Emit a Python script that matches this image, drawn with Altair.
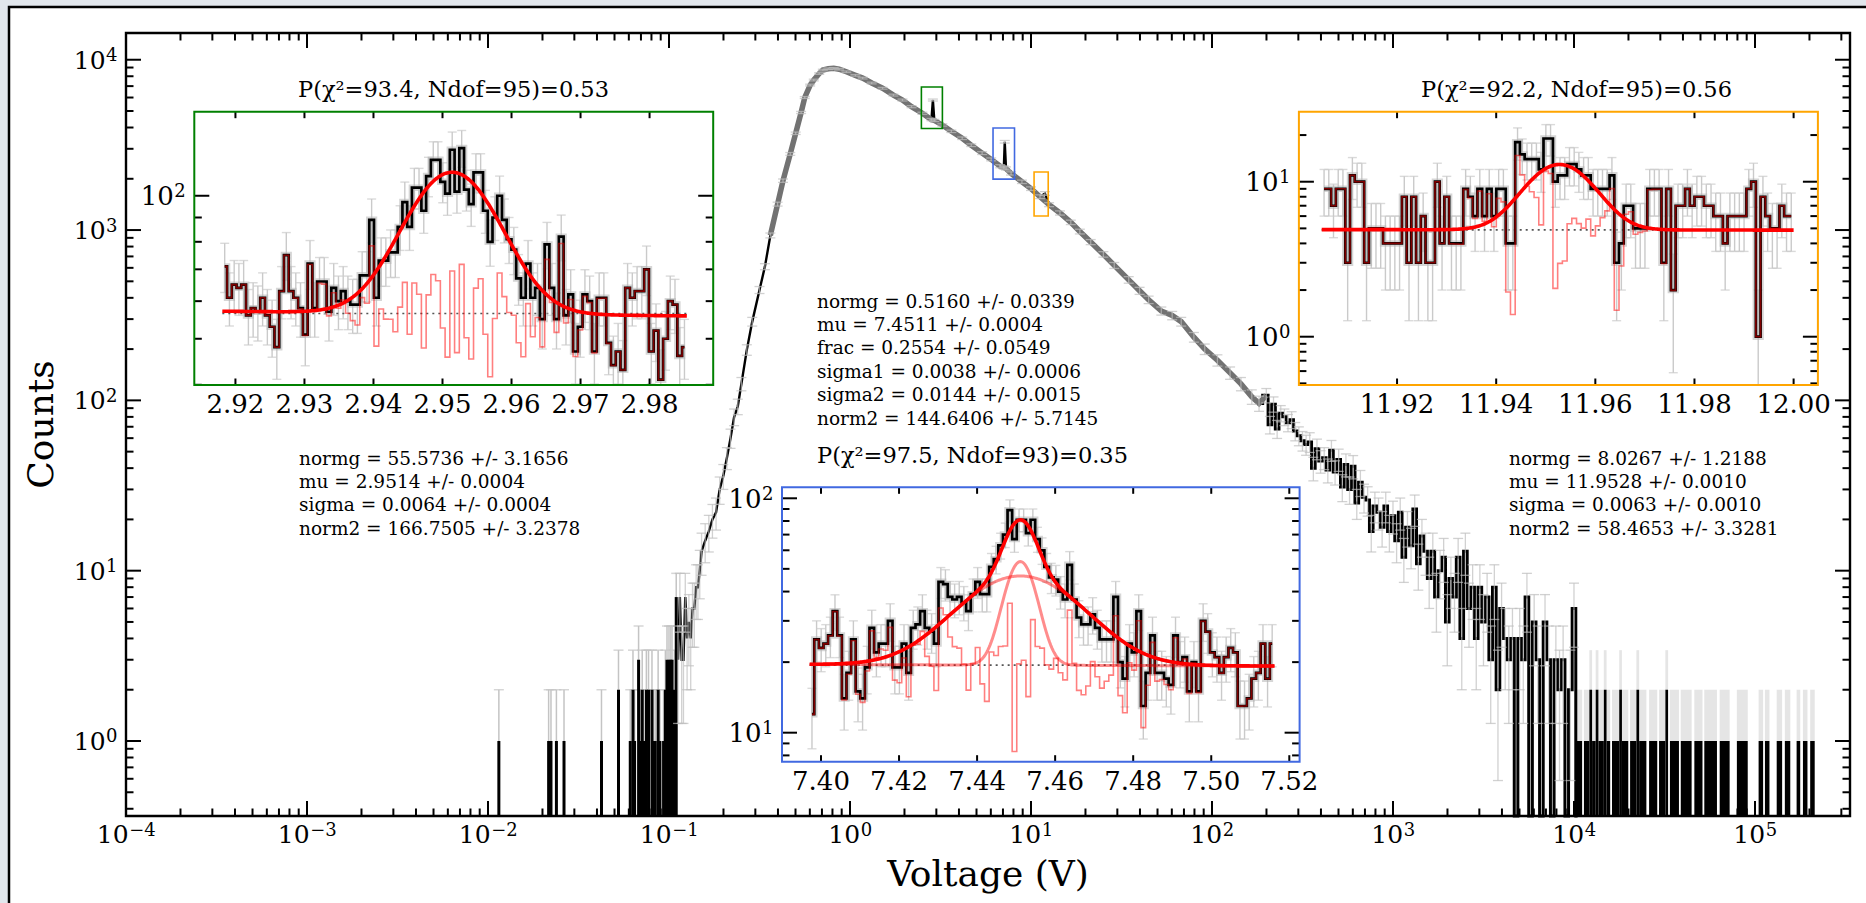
import altair as alt
import numpy as np
import pandas as pd

FONT = "DejaVu Serif"

# ---------------- layout (pixels) ----------------
W, H = 1724, 783
PAD = {"left": 126, "top": 33, "right": 16, "bottom": 87}
X_EXP = (-4.0, 5.525)        # main x axis, decades of voltage
Y_EXP = (-0.4404, 4.157)     # main y axis, decades of counts
Y_FLOOR = 10 ** Y_EXP[0]

# ---------------- main spectrum ----------------
main_logv = [-0.95, -0.94, -0.93, -0.92, -0.91, -0.90, -0.89, -0.88, -0.87, -0.86,
             -0.85, -0.84, -0.83, -0.82, -0.80, -0.78, -0.76, -0.74, -0.72, -0.70,
             -0.68, -0.66, -0.64, -0.62, -0.60, -0.57, -0.54, -0.50, -0.47, -0.44,
             -0.40, -0.37, -0.33, -0.30, -0.27, -0.25, -0.22, -0.20, -0.17, -0.15,
             -0.12, -0.09, -0.06, -0.02, 0.03, 0.07, 0.12, 0.18, 0.24, 0.29,
             0.34, 0.40, 0.45, 0.458, 0.466, 0.51, 0.56, 0.62, 0.67, 0.73,
             0.78, 0.83, 0.85, 0.855, 0.862, 0.89, 0.95, 1.00, 1.05, 1.077,
             1.10, 1.16, 1.22, 1.27, 1.33, 1.40, 1.46, 1.54, 1.60, 1.65,
             1.72, 1.78, 1.83, 1.90, 1.96, 2.03, 2.10, 2.16, 2.22, 2.26]
main_counts = [3, 7, 3, 3, 7, 4, 5, 4, 6, 6,
               8, 8, 10, 13, 15, 17, 20, 22, 30, 36,
               46, 60, 80, 92, 125, 198, 290, 445, 610, 930,
               1420, 1950, 2800, 3700, 4900, 6000, 7100, 7600, 8300, 8700,
               8850, 8900, 8800, 8500, 8100, 7800, 7300, 6800, 6200, 5800,
               5300, 4850, 4450, 5800, 4400, 4140, 3800, 3460, 3150, 2830,
               2600, 2370, 2330, 3300, 2300, 2150, 1920, 1750, 1570, 1640,
               1410, 1260, 1110, 980, 850, 720, 620, 510, 440, 390,
               335, 315, 290, 235, 200, 172, 145, 125, 105, 96]
peak_logv = [0.458, 0.855, 1.077]

tail_logv_start, tail_logv_step = 2.30, 0.02
tail_counts = [107, 72, 95, 68, 84, 80, 74, 77, 66, 62,
               58, 55, 57, 40, 52, 44, 46, 39, 51, 38,
               45, 31, 42, 30, 41, 25, 33, 27, 26, 17,
               24, 22, 18, 24, 17, 21, 15, 22, 12, 18,
               14, 23, 11, 16, 13, 9, 13, 7, 10, 12,
               5, 9, 7, 12, 4, 13, 6, 8, 4, 8,
               5, 7, 3, 8, 2, 6, 4, 3, 4, 0,
               4, 3, 7, 0, 5, 3, 0, 5, 3, 0,
               3, 2, 3, 0, 2, 6, 0]

low_spike_logv = [-1.940, -1.665, -1.652, -1.622, -1.580, -1.373, -1.279, -1.214, -1.199, -1.190,
                  -1.168, -1.158, -1.148, -1.140, -1.125, -1.113, -1.094, -1.085, -1.076, -1.060,
                  -1.050, -1.030, -1.020, -1.011, -1.000, -0.990, -0.983, -0.970, -0.960]
low_spike_counts = [1, 1, 1, 1, 1, 1, 2, 1, 2, 1,
                    3, 1, 2, 1, 2, 2, 2, 1, 1, 2,
                    1, 1, 2, 3, 3, 3, 3, 2, 7]

block_lv0 = [4.015, 4.055, 4.085, 4.100, 4.120, 4.135, 4.165, 4.180, 4.210, 4.250,
             4.265, 4.310, 4.345, 4.360, 4.415, 4.470, 4.505, 4.530, 4.590, 4.665,
             4.720, 4.805, 4.900, 5.020, 5.055, 5.120, 5.165, 5.230, 5.265, 5.305]
block_lv1 = [4.045, 4.085, 4.100, 4.120, 4.135, 4.165, 4.180, 4.200, 4.250, 4.265,
             4.300, 4.345, 4.360, 4.400, 4.460, 4.505, 4.520, 4.580, 4.650, 4.710,
             4.790, 4.860, 4.960, 5.045, 5.080, 5.150, 5.195, 5.250, 5.290, 5.330]
block_counts = [1, 1, 2, 1, 2, 1, 2, 1, 1, 2,
                1, 1, 2, 1, 1, 1, 2, 1, 1, 1,
                1, 1, 1, 1, 1, 1, 1, 1, 1, 1]

box_v0 = [2.48, 6.17, 10.4]
box_v1 = [3.24, 8.11, 12.45]
box_c0 = [3950, 1990, 1210]
box_c1 = [6920, 3970, 2190]
box_colors = ["#008000", "#4169e1", "#ffa500"]

main_x_exps = [-4, -3, -2, -1, 0, 1, 2, 3, 4, 5]
main_y_exps = [0, 1, 2, 3, 4]
x_title = "Voltage (V)"
y_title = "Counts"

# ---------------- inset spectra ----------------
green_counts = [71, 61, 65, 64, 65, 56, 58, 57, 61, 56,
                53, 48, 63, 75, 63, 61, 58, 51, 72, 58,
                66, 66, 57, 64, 60, 63, 60, 59, 59, 68,
                68, 89, 61, 73, 73, 76, 76, 86, 97, 86,
                104, 104, 93, 110, 119, 119, 107, 101, 125, 102,
                126, 103, 96, 112, 112, 93, 80, 90, 100, 89,
                81, 77, 67, 61, 72, 61, 64, 55, 79, 64,
                55, 82, 56, 62, 47, 53, 62, 60, 47, 61,
                61, 49, 44, 47, 43, 64, 61, 63, 63, 70,
                47, 52, 41, 50, 60, 59, 46, 48]
green_edges = (2.9181, 2.9854)
green_fit = {"normg": 55.5736, "mu": 2.9514, "sigma": 0.0064, "norm2": 166.7505}

orange_counts = [9, 9, 7, 9, 9, 3, 11, 10, 10, 3, 5, 5, 5, 4, 4, 4,
                 4, 8, 3, 8, 3, 6, 3, 3, 10, 4, 8, 4, 4, 4, 9, 8, 6, 9, 6, 9, 6,
                 9, 9, 4, 4, 18, 15, 14, 14, 14, 12, 19, 19, 10, 11, 11, 13, 13, 12, 11, 11, 9,
                 9, 9, 9, 11, 3, 4, 7, 7, 5, 5, 5, 9, 9, 9, 3, 9, 2, 7, 7, 9, 7,
                 8, 8, 7, 7, 6, 6, 4, 6, 6, 6, 6, 9, 10, 1, 8, 6, 5, 5, 7, 6, 6]
orange_edges = (11.9048, 12.0000)
orange_fit = {"normg": 8.0267, "mu": 11.9528, "sigma": 0.0063, "norm2": 58.4653}

blue_counts = [12, 25, 23, 24, 26, 33, 26, 14, 18, 25,
               15, 14, 19, 28, 22, 24, 24, 30, 19, 19,
               24, 18, 28, 29, 33, 28, 27, 24, 44, 43,
               38, 37, 38, 36, 33, 39, 44, 39, 39, 51,
               55, 63, 70, 89, 67, 81, 81, 71, 81, 67,
               60, 51, 46, 45, 40, 37, 52, 37, 31, 29,
               29, 32, 28, 25, 25, 25, 38, 20, 17, 24,
               22, 33, 13, 18, 26, 18, 18, 17, 16, 26,
               20, 21, 15, 20, 15, 30, 27, 22, 21, 18,
               21, 23, 22, 13, 13, 14, 17, 18, 24, 17, 24]
blue_edges = (7.3971, 7.5162)
blue_fit = {"mu": 7.4511, "sigma1": 0.0038, "sigma2": 0.0144, "norm2": 144.6406,
            "amp1": 34.3, "amp2": 27.2}   # component peak heights

green_text = ["normg = 55.5736 +/- 3.1656", "mu = 2.9514 +/- 0.0004",
              "sigma = 0.0064 +/- 0.0004", "norm2 = 166.7505 +/- 3.2378"]
blue_text = ["normg = 0.5160 +/- 0.0339", "mu = 7.4511 +/- 0.0004", "frac = 0.2554 +/- 0.0549",
             "sigma1 = 0.0038 +/- 0.0006", "sigma2 = 0.0144 +/- 0.0015", "norm2 = 144.6406 +/- 5.7145"]
orange_text = ["normg = 8.0267 +/- 1.2188", "mu = 11.9528 +/- 0.0010",
               "sigma = 0.0063 +/- 0.0010", "norm2 = 58.4653 +/- 3.3281"]
green_title = "P(\u03c7\u00b2=93.4, Ndof=95)=0.53"
orange_title = "P(\u03c7\u00b2=92.2, Ndof=95)=0.56"
blue_title = "P(\u03c7\u00b2=97.5, Ndof=93)=0.35"


def exp_str(k):
    return ("\u2212" + str(-k)) if k < 0 else str(k)


def minor_ticks(lo, hi):
    out = []
    for k in range(int(np.floor(np.log10(lo))) - 1, int(np.ceil(np.log10(hi))) + 1):
        for m in range(2, 10):
            v = round(m * 10.0 ** k, 10)
            if lo < v < hi:
                out.append(v)
    return out


one = pd.DataFrame({"k": [0]})

# label typography (pixels)
BASE_FS, EXP_FS = 25, 18
W10 = 1.272 * BASE_FS                 # width of "10"
def exp_w(k, fs=EXP_FS):
    return (0.838 + 0.636 * len(str(abs(k)))) * fs if k < 0 else 0.636 * len(str(k)) * fs

# ================= main panel =================
xs_main = alt.Scale(type="log", domain=[10 ** X_EXP[0], 10 ** X_EXP[1]], nice=False)
ys_main = alt.Scale(type="log", domain=[10 ** Y_EXP[0], 10 ** Y_EXP[1]], nice=False, clamp=True)
XM = lambda f: alt.X(f, scale=xs_main, axis=None)
YM = lambda f: alt.Y(f, scale=ys_main, axis=None)

tail_logv = list(np.round(tail_logv_start + tail_logv_step * np.arange(len(tail_counts)), 3))
lv_all = np.array(main_logv + tail_logv, dtype=float)
c_all = np.array(main_counts + tail_counts, dtype=float)
dm = pd.DataFrame({"lv": lv_all, "v": 10 ** lv_all, "c": np.maximum(c_all, 1e-3),
                   "lo": np.maximum(c_all - np.sqrt(c_all), 1e-3),
                   "hi": np.maximum(c_all + np.sqrt(c_all), 1e-3)})
smooth = dm[dm.lv <= 2.30]
tail = dm[dm.lv >= 2.26]
overlay = dm[(dm.lv >= -0.46) & (dm.lv <= 2.3) & (~dm.lv.isin(peak_logv))]

ls = np.array(low_spike_logv)
lc = np.array(low_spike_counts, dtype=float)
dsp = pd.DataFrame({"v": 10 ** ls, "c": lc, "hi": lc + np.sqrt(lc), "base": Y_FLOOR})

bc = np.array(block_counts, dtype=float)
dbl = pd.DataFrame({"v0": 10 ** np.array(block_lv0), "v1": 10 ** np.array(block_lv1),
                    "c": bc, "hi": bc + np.sqrt(bc), "base": Y_FLOOR})
dbox = pd.DataFrame({"v0": box_v0, "v1": box_v1, "c0": box_c0, "c1": box_c1, "col": box_colors})

main_layers = [
    alt.Chart(one).mark_rect(fill="white", stroke="black", strokeWidth=2.5).encode(
        x=alt.value(-117), x2=alt.value(W + 120), y=alt.value(-26), y2=alt.value(H + 150)),
    alt.Chart(dbl).mark_rect(color="#cccccc", opacity=0.5).encode(
        x=XM("v0:Q"), x2="v1:Q", y=YM("c:Q"), y2="hi:Q"),
    alt.Chart(dbl).mark_rect(color="black").encode(
        x=XM("v0:Q"), x2="v1:Q", y=YM("base:Q"), y2="c:Q"),
    alt.Chart(dsp).mark_rule(color="#c4c4c4", strokeWidth=1.5).encode(
        x=XM("v:Q"), y=YM("c:Q"), y2="hi:Q"),
    alt.Chart(dsp).mark_tick(orient="horizontal", size=10, thickness=1.5, color="#c4c4c4").encode(
        x=XM("v:Q"), y=YM("hi:Q")),
    alt.Chart(dsp).mark_rule(color="black", strokeWidth=3).encode(
        x=XM("v:Q"), y=YM("base:Q"), y2="c:Q"),
    alt.Chart(smooth).mark_line(color="black", strokeWidth=2.4).encode(
        x=XM("v:Q"), y=YM("c:Q")),
    alt.Chart(tail).mark_line(color="black", strokeWidth=3.0, interpolate="step").encode(
        x=XM("v:Q"), y=YM("c:Q")),
    alt.Chart(overlay).mark_line(color="#727272", strokeWidth=5.5).encode(
        x=XM("v:Q"), y=YM("c:Q")),
    alt.Chart(dm).mark_rule(color="#bdbdbd", strokeWidth=1.3, opacity=0.7).encode(
        x=XM("v:Q"), y=YM("lo:Q"), y2="hi:Q"),
    alt.Chart(dm).mark_tick(orient="horizontal", size=10, thickness=1.3, color="#bdbdbd", opacity=0.7).encode(
        x=XM("v:Q"), y=YM("hi:Q")),
    alt.Chart(dm).mark_tick(orient="horizontal", size=10, thickness=1.3, color="#bdbdbd", opacity=0.7).encode(
        x=XM("v:Q"), y=YM("lo:Q")),
    alt.Chart(dbox).mark_rect(fillOpacity=0, strokeWidth=1.6).encode(
        x=XM("v0:Q"), x2="v1:Q", y=YM("c0:Q"), y2="c1:Q", stroke=alt.Stroke("col:N", scale=None)),
]

xmaj = pd.DataFrame({"t": [10.0 ** k for k in main_x_exps], "k": main_x_exps,
                     "base": ["10"] * len(main_x_exps), "ex": [exp_str(k) for k in main_x_exps]})
xmin = pd.DataFrame({"t": minor_ticks(10 ** X_EXP[0], 10 ** X_EXP[1])})
ymaj = pd.DataFrame({"t": [10.0 ** k for k in main_y_exps], "k": main_y_exps,
                     "base": ["10"] * len(main_y_exps), "ex": [exp_str(k) for k in main_y_exps]})
ymin = pd.DataFrame({"t": minor_ticks(10 ** Y_EXP[0], 10 ** Y_EXP[1])})
for dfx, L in ((xmaj, 15), (xmin, 7.5)):
    main_layers.append(alt.Chart(dfx).mark_rule(color="black", strokeWidth=2).encode(
        x=XM("t:Q"), y=alt.value(H), y2=alt.value(H - L)))
    main_layers.append(alt.Chart(dfx).mark_rule(color="black", strokeWidth=2).encode(
        x=XM("t:Q"), y=alt.value(0), y2=alt.value(L)))
for dfy, L in ((ymaj, 15), (ymin, 7.5)):
    main_layers.append(alt.Chart(dfy).mark_rule(color="black", strokeWidth=2).encode(
        y=YM("t:Q"), x=alt.value(0), x2=alt.value(L)))
    main_layers.append(alt.Chart(dfy).mark_rule(color="black", strokeWidth=2).encode(
        y=YM("t:Q"), x=alt.value(W), x2=alt.value(W - L)))
main_layers.append(alt.Chart(one).mark_rect(fillOpacity=0, stroke="black", strokeWidth=2.4).encode(
    x=alt.value(0), x2=alt.value(W), y=alt.value(0), y2=alt.value(H)))

# tick labels "10" + raised exponent, centred on the tick (x) / right-aligned (y)
for neg in (True, False):
    sub = xmaj[(xmaj.k < 0) == neg]
    ew = exp_w(-4) if neg else exp_w(0)
    split = -(W10 + ew) / 2 + W10
    main_layers.append(alt.Chart(sub).mark_text(font=FONT, fontSize=BASE_FS, baseline="alphabetic",
                                                align="right", dx=split, color="black").encode(
        x=XM("t:Q"), y=alt.value(H + 27), text="base:N"))
    main_layers.append(alt.Chart(sub).mark_text(font=FONT, fontSize=EXP_FS, baseline="alphabetic",
                                                align="left", dx=split + 0.5, color="black").encode(
        x=XM("t:Q"), y=alt.value(H + 19.5), text="ex:N"))
ysplit = -9 - exp_w(0)
main_layers.append(alt.Chart(ymaj).mark_text(font=FONT, fontSize=BASE_FS, baseline="alphabetic",
                                             align="right", dy=9.1, color="black").encode(
    y=YM("t:Q"), x=alt.value(ysplit), text="base:N"))
main_layers.append(alt.Chart(ymaj).mark_text(font=FONT, fontSize=EXP_FS, baseline="alphabetic",
                                             align="left", dy=1.5, color="black").encode(
    y=YM("t:Q"), x=alt.value(ysplit + 0.5), text="ex:N"))
main_layers.append(alt.Chart(one).mark_text(font=FONT, fontSize=36, baseline="alphabetic", align="center",
                                            color="black").encode(
    x=alt.value(W / 2), y=alt.value(H + 70), text=alt.value(x_title)))
main_layers.append(alt.Chart(one).mark_text(font=FONT, fontSize=36, baseline="middle", align="center",
                                            angle=270, color="black").encode(
    x=alt.value(-84), y=alt.value(H / 2), text=alt.value(y_title)))
main = alt.layer(*main_layers)


# ================= insets =================
def make_inset(cfg):
    (x0p, x1p), (y0p, y1p) = cfg["px_x"], cfg["px_y"]
    xs = alt.Scale(domain=list(cfg["xdom"]), range=[x0p, x1p], nice=False, zero=False, clamp=True)
    ys = alt.Scale(type="log", domain=list(cfg["ydom"]), range=[y1p, y0p], nice=False, clamp=True)
    X = lambda f: alt.X(f, scale=xs, axis=None)
    Y = lambda f: alt.Y(f, scale=ys, axis=None)

    counts = np.asarray(cfg["counts"], dtype=float)
    n = counts.size
    e0, e1 = cfg["edges"]
    wb = (e1 - e0) / n
    xc = e0 + (np.arange(n) + 0.5) * wb
    mu = cfg["mu"]

    def gpart(x):
        return sum(a * np.exp(-0.5 * ((x - mu) / s) ** 2) for a, s in cfg["comps"])

    err = np.sqrt(counts)
    d = pd.DataFrame({"x": xc, "c": np.maximum(counts, 1e-3),
                      "lo": np.maximum(counts - err, 1e-3), "hi": counts + err,
                      "res": np.maximum(counts - gpart(xc), 1e-3)})
    xf = np.linspace(e0, e1, 400)
    basef = cfg["norm2"] / xf
    fit = pd.DataFrame({"x": xf, "m": basef + gpart(xf)})
    dline = pd.DataFrame({"xa": [e0], "xb": [e1], "b": [cfg["norm2"] / mu]})
    frame = pd.DataFrame({"xa": [cfg["xdom"][0]], "xb": [cfg["xdom"][1]],
                          "ya": [cfg["ydom"][0]], "yb": [cfg["ydom"][1]]})
    base = alt.Chart(d)
    L = [
        alt.Chart(frame).mark_rect(fill="white", strokeWidth=0).encode(
            x=X("xa:Q"), x2="xb:Q", y=Y("ya:Q"), y2="yb:Q"),
        base.mark_rule(color="#cacaca", strokeWidth=1.4).encode(x=X("x:Q"), y=Y("lo:Q"), y2="hi:Q"),
        base.mark_tick(orient="horizontal", size=9, thickness=1.4, color="#cacaca").encode(
            x=X("x:Q"), y=Y("hi:Q")),
        base.mark_tick(orient="horizontal", size=9, thickness=1.4, color="#cacaca").encode(
            x=X("x:Q"), y=Y("lo:Q")),
        alt.Chart(dline).mark_rule(color="#555555", strokeWidth=1.6, strokeDash=[2, 4]).encode(
            x=X("xa:Q"), x2="xb:Q", y=Y("b:Q")),
        base.mark_line(color="#b5b5b5", strokeWidth=6.5, opacity=0.55, interpolate="step").encode(
            x=X("x:Q"), y=Y("c:Q")),
        base.mark_line(color="black", strokeWidth=2.7, interpolate="step").encode(
            x=X("x:Q"), y=Y("c:Q")),
        base.mark_line(color="red", opacity=0.5, strokeWidth=1.6, interpolate="step").encode(
            x=X("x:Q"), y=Y("res:Q")),
    ]
    if len(cfg["comps"]) > 1:
        parts = []
        for k, (a, s) in enumerate(cfg["comps"]):
            parts.append(pd.DataFrame({"x": xf, "m": basef + a * np.exp(-0.5 * ((xf - mu) / s) ** 2), "k": k}))
        L.append(alt.Chart(pd.concat(parts)).mark_line(color="red", opacity=0.45, strokeWidth=3).encode(
            x=X("x:Q"), y=Y("m:Q"), detail="k:N"))
    L.append(alt.Chart(fit).mark_line(color="red", strokeWidth=3.6).encode(x=X("x:Q"), y=Y("m:Q")))

    xt = pd.DataFrame({"t": cfg["xticks"], "lab": [f"{v:.2f}" for v in cfg["xticks"]]})
    L.append(alt.Chart(xt).mark_rule(color="black", strokeWidth=2).encode(
        x=X("t:Q"), y=alt.value(y1p), y2=alt.value(y1p - 6.5)))
    L.append(alt.Chart(xt).mark_rule(color="black", strokeWidth=2).encode(
        x=X("t:Q"), y=alt.value(y0p), y2=alt.value(y0p + 6.5)))
    yt = pd.DataFrame({"t": [10.0 ** k for k in cfg["yexps"]], "base": ["10"] * len(cfg["yexps"]),
                       "ex": [exp_str(k) for k in cfg["yexps"]]})
    ym = pd.DataFrame({"t": minor_ticks(*cfg["ydom"])})
    for dfy, ln in ((yt, 15), (ym, 7.5)):
        L.append(alt.Chart(dfy).mark_rule(color="black", strokeWidth=2).encode(
            y=Y("t:Q"), x=alt.value(x0p), x2=alt.value(x0p + ln)))
        L.append(alt.Chart(dfy).mark_rule(color="black", strokeWidth=2).encode(
            y=Y("t:Q"), x=alt.value(x1p), x2=alt.value(x1p - ln)))
    L.append(alt.Chart(frame).mark_rect(fillOpacity=0, stroke=cfg["color"], strokeWidth=2).encode(
        x=X("xa:Q"), x2="xb:Q", y=Y("ya:Q"), y2="yb:Q"))
    L.append(alt.Chart(xt).mark_text(font=FONT, fontSize=26, baseline="top", align="center",
                                     color="black").encode(
        x=X("t:Q"), y=alt.value(y1p + 7), text="lab:N"))
    sx = x0p - 9 - exp_w(0)
    L.append(alt.Chart(yt).mark_text(font=FONT, fontSize=26, baseline="alphabetic", align="right",
                                     dy=9.5, color="black").encode(
        y=Y("t:Q"), x=alt.value(sx), text="base:N"))
    L.append(alt.Chart(yt).mark_text(font=FONT, fontSize=EXP_FS, baseline="alphabetic", align="left",
                                     dy=1.5, color="black").encode(
        y=Y("t:Q"), x=alt.value(sx + 0.5), text="ex:N"))
    return alt.layer(*L)


green = make_inset(dict(counts=green_counts, edges=green_edges, mu=green_fit["mu"],
                        norm2=green_fit["norm2"], comps=[(green_fit["normg"], green_fit["sigma"])],
                        px_x=(68.3, 587.2), px_y=(78.7, 352.0), xdom=(2.91404, 2.98922),
                        ydom=(39.96, 150.3), xticks=[2.92, 2.93, 2.94, 2.95, 2.96, 2.97, 2.98],
                        yexps=[2], color="#008000"))
orange = make_inset(dict(counts=orange_counts, edges=orange_edges, mu=orange_fit["mu"],
                         norm2=orange_fit["norm2"], comps=[(orange_fit["normg"], orange_fit["sigma"])],
                         px_x=(1172.9, 1691.9), px_y=(78.7, 352.0), xdom=(11.9002, 12.0049),
                         ydom=(0.488, 28.3), xticks=[11.92, 11.94, 11.96, 11.98, 12.00],
                         yexps=[0, 1], color="#ffa500"))
blue = make_inset(dict(counts=blue_counts, edges=blue_edges, mu=blue_fit["mu"],
                       norm2=blue_fit["norm2"],
                       comps=[(blue_fit["amp1"], blue_fit["sigma1"]), (blue_fit["amp2"], blue_fit["sigma2"])],
                       px_x=(656.0, 1173.6), px_y=(454.3, 728.7), xdom=(7.39001, 7.52264),
                       ydom=(7.52, 111.4), xticks=[7.40, 7.42, 7.44, 7.46, 7.48, 7.50, 7.52],
                       yexps=[1, 2], color="#4169e1"))

# ================= annotations (positions in plot pixels) =================
rows = []
for txt, (px, py) in ((green_title, (172, 64)), (orange_title, (1295, 64)), (blue_title, (691, 430))):
    rows.append({"px": px, "py": py, "txt": txt, "fs": 22.5})
for lines, (px, py0) in ((green_text, (173, 425)), (orange_text, (1383, 425)), (blue_text, (691, 268))):
    for i, t in enumerate(lines):
        rows.append({"px": px, "py": py0 + 23.4 * i + 6.5, "txt": t, "fs": 18.5})
annot = alt.Chart(pd.DataFrame(rows)).mark_text(font=FONT, align="left", baseline="alphabetic",
                                                 color="black").encode(
    x=alt.X("px:Q", scale=None), y=alt.Y("py:Q", scale=None), text="txt:N",
    size=alt.Size("fs:Q", scale=None))

chart = alt.layer(main, green, orange, blue, annot).resolve_scale(
    x="independent", y="independent"
).properties(
    width=W, height=H, padding=PAD, autosize=alt.AutoSizeParams(type="none"), background="#e1e6ec"
).configure_view(stroke=None)

chart.save("out.html", embed_options={"renderer": "svg", "actions": False})
